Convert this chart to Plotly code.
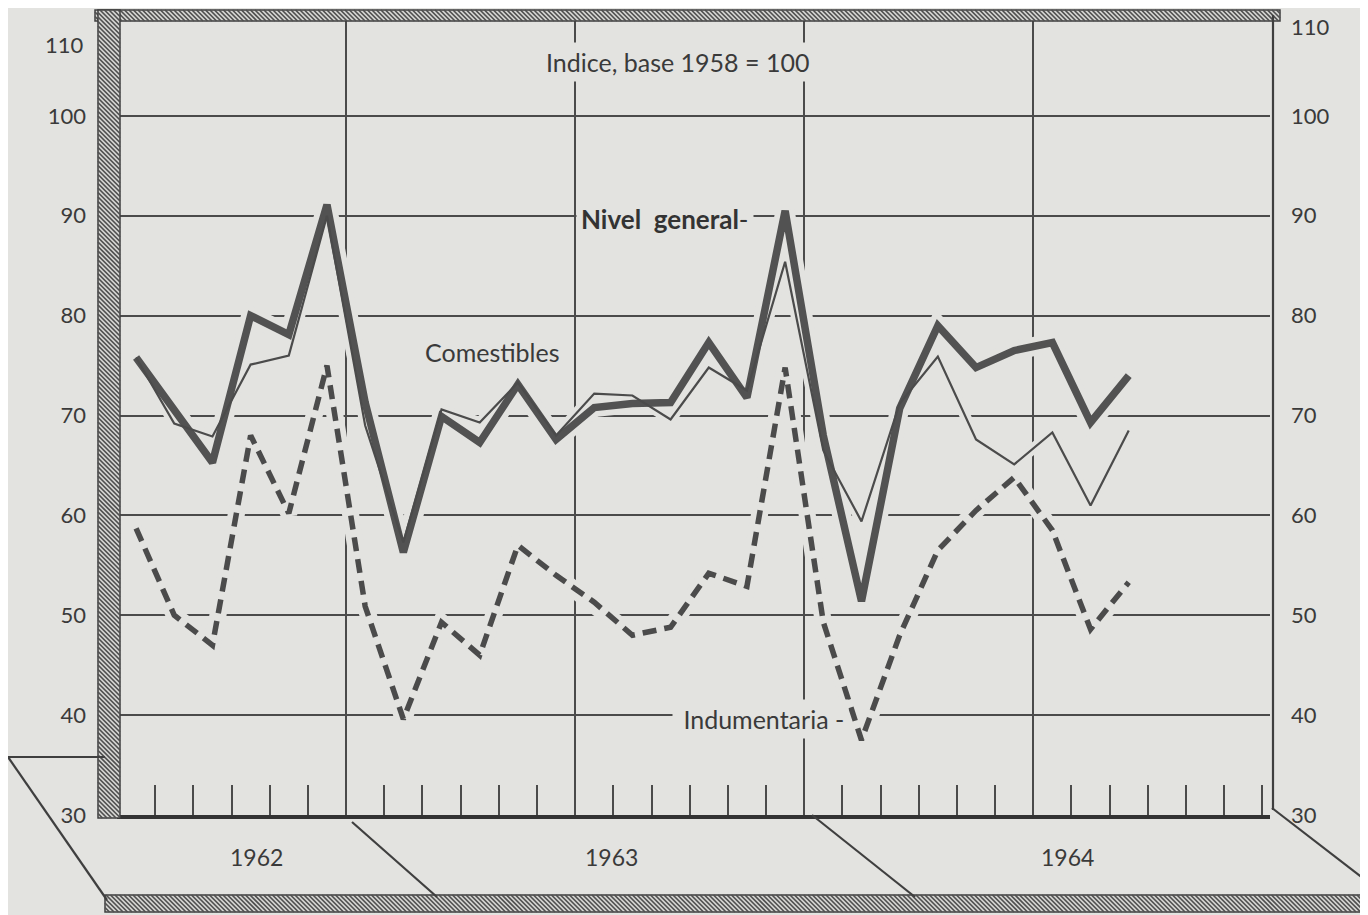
import plotly.graph_objects as go

# ---------------- data ----------------
month_names = ["Jul", "Ago", "Sep", "Oct", "Nov", "Dic",
               "Ene", "Feb", "Mar", "Abr", "May", "Jun", "Jul", "Ago", "Sep", "Oct", "Nov", "Dic",
               "Ene", "Feb", "Mar", "Abr", "May", "Jun", "Jul", "Ago", "Sep"]
month_years = [1962] * 6 + [1963] * 12 + [1964] * 9
months = [f"{m} {y}" for m, y in zip(month_names, month_years)]

nivel_general = [75.8, 70.5, 65.3, 80.0, 78.1, 91.1,
                 71.3, 56.3, 69.9, 67.3, 73.1, 67.6, 70.8, 71.2, 71.3, 77.3, 71.8, 90.5,
                 68.0, 51.4, 70.7, 79.0, 74.8, 76.5, 77.3, 69.3, 74.0]
comestibles = [75.8, 69.2, 67.9, 75.1, 76.0, 90.0,
               69.0, 57.3, 70.6, 69.3, 73.3, 68.0, 72.2, 72.0, 69.6, 74.8, 72.5, 85.4,
               66.5, 59.4, 71.2, 75.9, 67.6, 65.1, 68.3, 61.0, 68.5]
indumentaria = [58.7, 50.0, 47.0, 68.0, 60.2, 75.0,
                50.9, 39.6, 49.3, 46.0, 57.0, 54.0, 51.3, 48.0, 48.8, 54.2, 52.9, 74.8,
                49.3, 37.5, 48.0, 56.5, 60.5, 63.8, 58.5, 48.6, 53.3]

y_ticks = [30, 40, 50, 60, 70, 80, 90, 100, 110]
y_ticktext = [str(v) for v in y_ticks]
year_labels = ["1962", "1963", "1964"]
year_label_x = [3.15, 12.45, 24.4]          # label centres in month-index units
half_year_lines = [5.5, 11.5, 17.5, 23.5]   # vertical grid lines (year / half-year)
month_ticks = [i + 0.5 for i in range(-1, 30)]

# ---------------- styling ----------------
OFF = 8                      # the page body margin shifts the figure by 8 px
W, H = 1368 - OFF, 915 - OFF
BG = "#e3e3e0"
INK = "#4b4b4b"
TXT = "#3a3a3a"
FONT = "Lato, 'Noto Sans', sans-serif"


def px(x):
    return (x - OFF) / W


def py(y):
    return 1 - (y - OFF) / H


x = list(range(len(months)))

fig = go.Figure()

# halos (create the little gaps in the grid where the curves cross it)
for series, w in [(indumentaria, 17), (comestibles, 11), (nivel_general, 19)]:
    fig.add_trace(go.Scatter(x=x, y=series, mode="lines", line=dict(color=BG, width=w),
                             hoverinfo="skip", showlegend=False))

fig.add_trace(go.Scatter(x=x, y=indumentaria, mode="lines", name="Indumentaria",
                         line=dict(color=INK, width=5.5, dash="14px,8px"), showlegend=False))
fig.add_trace(go.Scatter(x=x, y=nivel_general, mode="lines", name="Nivel general",
                         line=dict(color="#525252", width=7.5), showlegend=False))
fig.add_trace(go.Scatter(x=x, y=comestibles, mode="lines", name="Comestibles",
                         line=dict(color=INK, width=2.2), showlegend=False))
# invisible trace so that the right-hand axis is drawn
fig.add_trace(go.Scatter(x=x, y=nivel_general, mode="lines", yaxis="y2",
                         line=dict(color="rgba(0,0,0,0)", width=0),
                         hoverinfo="skip", showlegend=False))


# ---------------- decorations (frame, floor, hatching) ----------------
def hatch_path(x0, y0, x1, y1, step=4.5):
    segs = []
    h = y1 - y0
    c = x0 - h
    while c < x1:
        ya = max(y0, y0 + (x0 - c))
        yb = min(y1, y0 + (x1 - c))
        if yb > ya:
            xa = c + (ya - y0)
            xb = c + (yb - y0)
            segs.append(f"M{px(xa):.5f},{py(ya):.5f}L{px(xb):.5f},{py(yb):.5f}")
        c += step
    return "".join(segs)


shapes = []
bars = [(95, 10, 1280, 21), (98, 10, 120, 818), (105, 895, 1368, 912)]
for (x0, y0, x1, y1) in bars:
    shapes.append(dict(type="rect", xref="paper", yref="paper",
                       x0=px(x0), x1=px(x1), y0=py(y1), y1=py(y0),
                       line=dict(color="#3f3f3f", width=1.5), fillcolor="#d6d6d3", layer="above"))
    shapes.append(dict(type="path", xref="paper", yref="paper",
                       path=hatch_path(x0, y0, x1, y1),
                       line=dict(color="#505050", width=1.7), layer="above"))

floor_lines = [((8, 757), (105, 757)), ((8, 757), (107, 900)),
               ((352, 822), (437, 897)), ((812, 815), (915, 897)),
               ((1272, 808), (1368, 882)), ((1273, 15), (1273, 810))]
for (a, b) in floor_lines:
    shapes.append(dict(type="line", xref="paper", yref="paper",
                       x0=px(a[0]), y0=py(a[1]), x1=px(b[0]), y1=py(b[1]),
                       line=dict(color="#3f3f3f", width=2.2), layer="above"))

common = dict(xref="paper", yref="paper", showarrow=False, xanchor="center", yanchor="middle")
annotations = [
    dict(text="Indice, base 1958 = 100", x=px(677), y=py(62),
         font=dict(family=FONT, size=25, color=TXT), bgcolor=BG, borderpad=4, **common),
    dict(text="<b>Nivel\u00a0\u00a0general</b>-", x=px(665), y=py(219),
         font=dict(family=FONT, size=26, color="#333333"), bgcolor=BG, borderpad=4, **common),
    dict(text="Comestibles", x=px(492), y=py(352),
         font=dict(family=FONT, size=25, color=TXT), **common),
    dict(text="\u00a0Indumentaria -", x=px(760), y=py(719),
         font=dict(family=FONT, size=25, color=TXT), bgcolor=BG, borderpad=4, **common),
    # the top tick label (110) sits at the very edge of the frame on both sides
    dict(text=y_ticktext[-1], x=px(86), y=py(45), xanchor="right", yanchor="middle",
         xref="paper", yref="paper", showarrow=False,
         font=dict(family=FONT, size=22, color=TXT)),
    dict(text=y_ticktext[-1], x=px(1289), y=py(26), xanchor="left", yanchor="middle",
         xref="paper", yref="paper", showarrow=False,
         font=dict(family=FONT, size=22, color=TXT)),
]
for lab, lx in zip(year_labels, year_label_x):
    annotations.append(dict(text=lab, x=lx, y=py(857), xref="x", yref="paper", showarrow=False,
                            xanchor="center", yanchor="middle",
                            font=dict(family=FONT, size=23, color=TXT)))

fig.update_layout(
    width=W, height=H,
    margin=dict(l=0, r=0, t=0, b=0),
    paper_bgcolor=BG, plot_bgcolor=BG,
    showlegend=False,
    font=dict(family=FONT, color=TXT),
    xaxis=dict(domain=[px(117), px(1270)], range=[-0.5, 29.7],
               tickmode="array", tickvals=half_year_lines, showticklabels=False, ticks="",
               showgrid=True, gridcolor=INK, gridwidth=1.6, zeroline=False,
               showline=True, linecolor="#333333", linewidth=3.5,
               minor=dict(tickmode="array", tickvals=month_ticks, ticks="inside", ticklen=30,
                          tickwidth=2, tickcolor=INK, showgrid=False),
               automargin=False),
    yaxis=dict(domain=[py(815), py(16)], range=[30, 110],
               tickmode="array", tickvals=y_ticks[:-1], ticktext=y_ticktext[:-1],
               showgrid=True, gridcolor=INK, gridwidth=1.6, zeroline=False, ticks="",
               ticklabelstandoff=30, tickfont=dict(family=FONT, size=22, color=TXT),
               automargin=False),
    yaxis2=dict(overlaying="y", side="right", anchor="x", range=[30, 110],
                tickmode="array", tickvals=y_ticks[:-1], ticktext=y_ticktext[:-1],
                showgrid=False, zeroline=False, ticks="", ticklabelstandoff=20,
                tickfont=dict(family=FONT, size=22, color=TXT), automargin=False),
    shapes=shapes,
    annotations=annotations,
)

fig.write_html("out.html")
